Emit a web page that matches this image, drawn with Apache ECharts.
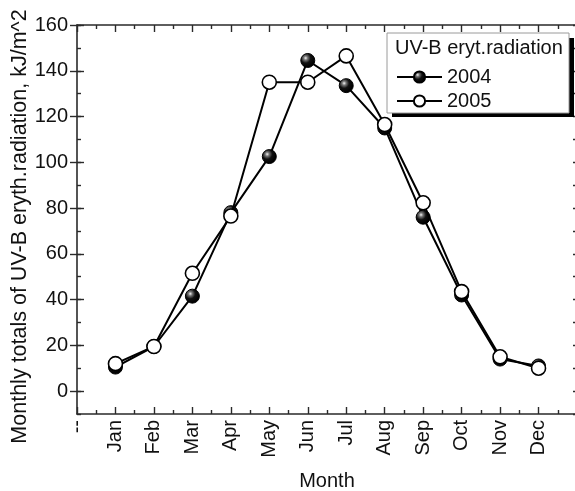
<!DOCTYPE html>
<html>
<head>
<meta charset="utf-8">
<script src="https://cdn.jsdelivr.net/npm/echarts@6/dist/echarts.min.js"></script>
<style>
  html, body { margin: 0; padding: 0; background: #fff; }
  #chart { width: 575px; height: 491px; }
</style>
</head>
<body>
<div id="chart"></div>
<script>
// Month tick labels along the x axis (position 0 .. 13)
var tickLabels = ['--', 'Jan', 'Feb', 'Mar', 'Apr', 'May', 'Jun', 'Jul', 'Aug', 'Sep', 'Oct', 'Nov', 'Dec', ''];
// Monthly totals of erythemal UV-B radiation, kJ/m^2
var uv2004 = [10.5, 19.5, 41.5, 78, 102.5, 144.5, 133.5, 115, 76, 42, 14, 11];
var uv2005 = [12, 19.5, 51.5, 76.5, 135, 135, 146.5, 116.5, 82.3, 43.5, 15, 10];
// Labelled y values
var yMajor = [0, 20, 40, 60, 80, 100, 120, 140, 160];

var FONT = 'Liberation Sans, Arial, sans-serif';
var FS = 20;
var AX = '#2a2a2a';

function toPoints(arr) {
  return arr.map(function (v, i) { return [i + 1, v]; });
}

// shaded ball marker for 2004
var ball = new echarts.graphic.RadialGradient(0.36, 0.34, 0.6, [
  { offset: 0, color: '#f4f4f4' },
  { offset: 0.22, color: '#777777' },
  { offset: 0.55, color: '#111111' },
  { offset: 1, color: '#000000' }
]);

function xAxisCfg(pos, showLabel) {
  return {
    type: 'value', position: pos, min: 0, max: 13, interval: 1,
    name: showLabel ? 'Month' : '',
    nameLocation: 'middle', nameGap: 57,
    nameTextStyle: { fontFamily: FONT, fontSize: FS, color: '#111' },
    axisLine: { show: true, onZero: false, lineStyle: { color: AX, width: 1.6 } },
    axisTick: { show: true, inside: true, length: 7, lineStyle: { color: AX, width: 1.4 } },
    minorTick: { show: true, splitNumber: 2, length: 4, lineStyle: { color: AX, width: 1.4 } },
    splitLine: { show: false }, minorSplitLine: { show: false },
    axisLabel: {
      show: showLabel, rotate: 90, margin: 6,
      fontFamily: FONT, fontSize: FS, color: '#111',
      formatter: function (v) { return tickLabels[Math.round(v)] || ''; }
    }
  };
}

function yMinorCfg(pos, showLabel) {
  return {
    type: 'value', position: pos, min: -10, max: 160, interval: 10,
    name: showLabel ? 'Monthly totals of UV-B eryth.radiation, kJ/m^2' : '',
    nameLocation: 'middle', nameGap: 46, nameMoveOverlap: false,
    nameTextStyle: { fontFamily: FONT, fontSize: 21.5, color: '#111', padding: [0, 14, 0, 0] },
    axisLine: { show: true, onZero: false, lineStyle: { color: AX, width: 1.6 } },
    axisTick: { show: true, inside: true, length: 4, lineStyle: { color: AX, width: 1.4 } },
    splitLine: { show: false },
    axisLabel: {
      show: showLabel, margin: 9, fontFamily: FONT, fontSize: FS, color: '#111',
      formatter: function (v) { return yMajor.indexOf(v) >= 0 ? String(v) : ''; }
    }
  };
}

function yMajorCfg(pos) {
  return {
    type: 'value', position: pos, min: -10, max: 160,
    axisLine: { show: false },
    axisTick: { show: true, inside: true, length: 7, customValues: yMajor, lineStyle: { color: AX, width: 1.4 } },
    axisLabel: { show: false },
    splitLine: { show: false }
  };
}

var chart = echarts.init(document.getElementById('chart'), null, { renderer: 'canvas' });
chart.setOption({
  backgroundColor: '#fff',
  animation: false,
  grid: { left: 77, top: 25, width: 500, height: 389, containLabel: false, outerBoundsMode: 'none' },
  xAxis: [xAxisCfg('bottom', true), xAxisCfg('top', false)],
  yAxis: [yMinorCfg('left', true), yMajorCfg('left'), yMinorCfg('right', false), yMajorCfg('right')],
  graphic: [
    { type: 'rect', z: 3, shape: { x: 392, y: 38, width: 182, height: 79 }, style: { fill: '#000' } },
    { type: 'rect', z: 3, shape: { x: 387, y: 33, width: 182, height: 80 }, style: { fill: '#fff', stroke: '#9a9a9a', lineWidth: 1 } },
    { type: 'text', z: 4, left: 395, top: 38, style: { text: 'UV-B eryt.radiation', font: FS + 'px ' + FONT, fill: '#111' } }
  ],
  legend: {
    z: 5, orient: 'vertical', left: 396, top: 67, padding: 0,
    itemWidth: 45, itemHeight: 14, itemGap: 4,
    textStyle: { fontFamily: FONT, fontSize: FS, color: '#111', padding: [0, 0, 0, 0] },
    data: ['2004', '2005']
  },
  series: [
    {
      name: '2004', type: 'line', xAxisIndex: 0, yAxisIndex: 0,
      data: toPoints(uv2004),
      symbol: 'circle', symbolSize: 14,
      lineStyle: { color: '#000', width: 2 },
      itemStyle: { color: ball, borderColor: '#000', borderWidth: 1 },
      z: 2
    },
    {
      name: '2005', type: 'line', xAxisIndex: 0, yAxisIndex: 0,
      data: toPoints(uv2005),
      symbol: 'circle', symbolSize: 14,
      lineStyle: { color: '#000', width: 2 },
      itemStyle: { color: '#fff', borderColor: '#000', borderWidth: 1.6 },
      z: 3
    }
  ]
});
</script>
</body>
</html>
